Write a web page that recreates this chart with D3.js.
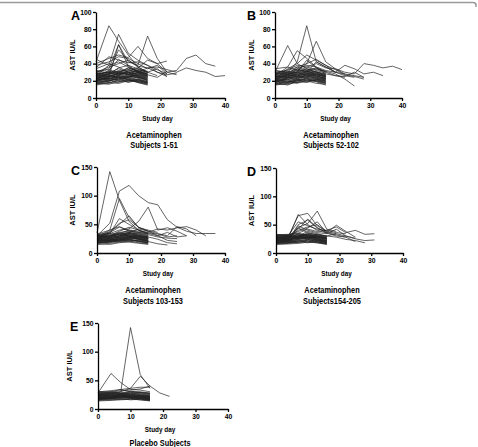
<!DOCTYPE html>
<html>
<head>
<meta charset="utf-8">
<script src="https://cdn.jsdelivr.net/npm/d3@7"></script>
<style>
  html, body { margin: 0; padding: 0; background: #fff; }
  svg { display: block; }
  text { font-family: "Liberation Sans", Arial, sans-serif; font-weight: bold; fill: #000; }
</style>
</head>
<body>
<div id="chart"></div>
<script>
// study days shared by all panels (one visit every 3 days after day 4)
const studyDays = [0, 4, 7, 10, 13, 16, 19, 22, 25, 28, 31, 34, 37, 40];
const xTicks = [0, 10, 20, 30, 40];
const yTicks100 = [0, 20, 40, 60, 80, 100];
const yTicks150 = [0, 50, 100, 150];

// AST values per subject, one row per subject, aligned on studyDays
const subjectsA = [
  [42,84,66,50,36,30],
  [26,38,74,52,44,38,33,28],
  [30,34,62,42,38,72,46,30,27],
  [40,46,50,47,60,46,40,43],
  [22,30,56,44,36,30,34,25],
  [28,30,31,33,35,44,40,30,32,46,50,40,37],
  [22,28,35,38,30,35,36,33,30,35,32,30,25,26],
  [45,38,42,36,30,28],
  [35,48,44,41,42,38,30,25],
  [20,25,62,37,30,25],
  [38,42,48,46,40,34,38,28],
  [30,36,40,44,37,35,30,27,29],
  [25,32,45,38,34,30,26],
  [34,40,36,30,32,27,24,31],
  [22,25,28,24,26,20],
  [18,20,22,25,21,17],
  [25,28,30,27,29,26],
  [20,19,24,22,18,16],
  [28,30,26,32,30,28],
  [16,18,20,19,22,18],
  [24,22,27,30,26,24],
  [30,27,32,28,31,29],
  [19,23,21,25,24,22],
  [26,24,29,27,33,30],
  [21,25,23,20,22,19],
  [17,16,19,21,18,15],
  [27,31,28,33,29,27],
  [23,21,25,24,28,25],
  [20,24,26,29,24,21],
  [32,29,34,30,27,25],
  [18,21,18,22,20,18],
  [25,27,24,26,23,20],
  [22,20,23,27,25,23],
  [29,26,30,35,31,28],
  [15,18,17,20,19,17],
  [24,28,31,27,25,22],
  [21,23,20,24,27,24],
  [26,29,27,31,34,31],
  [19,17,22,18,21,19],
  [28,25,29,28,26,23],
  [23,26,24,22,24,21],
  [31,33,29,35,32,30],
  [17,20,24,21,19,16],
  [25,22,26,25,30,27],
  [20,22,25,23,20,18],
  [27,24,28,30,28,26]
];

const subjectsB = [
  [30,61,40,34,30,26],
  [24,30,42,84,42,36,30],
  [20,28,36,40,66,42,34,28],
  [26,36,55,46,36,30],
  [22,34,40,50,44,38,30,26,24],
  [28,33,38,36,40,35,34,30,28,40,38,35,37,33],
  [32,30,34,38,36,32,30,38,34,28,30,26],
  [25,27,30,36,33,31,28,22,14],
  [30,32,36,32,35,28,26,25,30,24],
  [34,36,32,40,45,38,33,27,25,22],
  [18,24,30,44,35,30,26,24],
  [22,26,34,30,42,36,30,28,26,24],
  [20,22,24,26,23,21],
  [16,18,21,19,22,20],
  [24,26,28,30,27,25],
  [18,15,20,22,19,17],
  [27,29,25,31,28,26],
  [21,24,22,27,25,23],
  [15,17,19,18,21,19],
  [25,23,27,29,26,22],
  [29,27,31,33,30,28],
  [19,21,18,24,22,20],
  [23,25,26,28,31,27],
  [17,20,17,21,19,15],
  [26,28,30,27,29,24],
  [22,19,23,25,24,22],
  [28,31,29,34,32,29],
  [20,23,25,23,20,18],
  [16,16,18,20,17,16],
  [24,27,24,28,25,23],
  [30,28,32,30,34,31],
  [18,22,21,25,23,21],
  [25,24,28,26,28,25],
  [21,18,22,20,21,18],
  [27,30,27,32,30,27],
  [23,21,26,24,27,24],
  [19,24,23,27,24,22],
  [32,29,33,31,29,26],
  [17,19,20,22,20,17],
  [26,25,29,31,27,25],
  [22,27,25,29,26,23],
  [20,17,21,23,22,19]
];

const subjectsC = [
  [35,142,92,55,40,34],
  [30,52,108,118,100,88,84,58,45,38,34,34,34],
  [28,40,95,62,45,38],
  [25,38,50,65,44,40,36],
  [30,34,40,42,55,80,40,44,38,30],
  [28,35,52,58,45,38,34,30,46,42,30],
  [32,36,45,40,38,36,42,40,44,46,40,30],
  [26,30,38,45,40,35,33,28,30],
  [30,28,33,35,42,38,30,36,28,30],
  [24,34,60,50,40,32,28,26,25],
  [33,40,46,38,36,34,30,22,20],
  [22,26,30,34,30,28,24,18,16],
  [20,22,26,28,24,20,16,14],
  [22,25,28,30,26,22],
  [18,20,24,23,21,18],
  [28,30,34,36,31,27],
  [15,17,19,21,18,16],
  [25,27,30,33,29,25],
  [20,23,22,26,24,21],
  [30,32,36,38,34,30],
  [17,19,21,24,20,17],
  [26,24,29,31,28,26],
  [23,26,27,29,32,28],
  [19,18,22,20,23,20],
  [32,34,31,36,33,29],
  [21,24,26,28,25,22],
  [27,29,32,30,27,24],
  [16,15,18,19,17,15],
  [24,22,25,27,30,26],
  [29,31,28,33,35,31],
  [18,21,20,23,22,19],
  [25,28,33,29,26,23],
  [22,20,23,25,27,25],
  [31,29,34,40,36,33],
  [20,24,21,22,20,18],
  [26,27,30,34,31,27],
  [17,20,23,26,24,21],
  [28,25,27,29,28,25],
  [23,22,24,27,25,22],
  [19,22,25,24,21,18],
  [24,30,35,32,29,26]
];

const subjectsD = [
  [30,28,68,50,40,35],
  [25,30,66,70,48,38],
  [28,26,45,52,74,42,38],
  [22,24,50,58,44,36,49,38,28],
  [30,32,55,48,42,40,46,36,40,33,34],
  [26,28,40,46,50,38,34,30,25,22,23],
  [24,22,48,40,36,34,42,30,26],
  [20,26,42,60,45,35,30,28,20],
  [32,30,38,44,55,36,32,28],
  [28,24,35,42,38,40,36,34],
  [18,22,30,38,34,30,28,24,22,18],
  [26,30,44,36,32,30,34],
  [22,24,26,28,25,21],
  [18,19,22,24,20,17],
  [28,27,30,32,29,26],
  [16,17,19,21,18,15],
  [25,26,29,27,30,24],
  [20,21,24,26,23,20],
  [30,31,28,33,31,28],
  [17,18,21,20,22,18],
  [26,25,27,31,27,25],
  [23,22,31,29,26,22],
  [19,20,18,23,21,19],
  [32,33,35,30,28,26],
  [21,22,25,27,24,21],
  [27,28,32,29,33,29],
  [15,16,17,19,18,16],
  [24,23,28,30,26,23],
  [29,30,27,34,30,27],
  [18,20,23,22,19,17],
  [25,24,26,28,27,25],
  [22,21,29,25,23,20],
  [31,32,30,35,32,30],
  [20,19,21,24,22,18],
  [26,27,33,31,28,24],
  [17,18,20,18,20,16],
  [28,29,26,28,25,22],
  [23,24,27,26,29,26],
  [19,21,24,27,23,20],
  [33,31,34,32,30,28]
];

const subjectsE = [
  [30,32,34,30,30,28],
  [28,62,46,34,33,30],
  [26,28,30,142,60,36],
  [24,26,30,36,57,40,28,22],
  [30,30,34,36,38,38],
  [28,29,32,33,35,40],
  [20,22,23,21,20,18],
  [17,18,19,20,18,16],
  [24,25,26,24,23,22],
  [15,16,17,18,16,15],
  [22,21,24,23,22,20],
  [19,20,21,19,21,18],
  [26,27,25,28,26,24],
  [16,17,18,16,17,15],
  [23,24,22,25,24,22],
  [21,19,23,22,20,19],
  [18,20,19,21,19,17],
  [28,29,27,30,28,26],
  [20,21,22,20,23,21],
  [25,23,26,27,25,23],
  [14,15,16,17,16,14],
  [22,24,21,24,22,20],
  [27,26,28,26,29,27],
  [17,19,20,19,18,16],
  [24,22,25,26,24,21],
  [19,18,21,23,21,19],
  [29,30,28,31,29,27],
  [21,20,22,21,20,18],
  [26,25,27,29,27,25],
  [16,18,17,18,19,17],
  [23,22,24,22,24,23],
  [18,19,21,20,18,16],
  [25,27,26,25,23,21],
  [20,22,24,23,21,19]
];

// panel layout
const panels = [
  {letter: 'A', rows: subjectsA, yMax: 100, yTicks: yTicks100, x0: 96,  x1: 225, yTop: 12,  yBot: 98,
   title: ['Acetaminophen', 'Subjects 1-51'], tx: 154, ty: 137.5, ytx: 72, lx: 71},
  {letter: 'B', rows: subjectsB, yMax: 100, yTicks: yTicks100, x0: 275, x1: 402, yTop: 12,  yBot: 98,
   title: ['Acetaminophen', 'Subjects 52-102'], tx: 331, ty: 137.5, ytx: 251, lx: 247},
  {letter: 'C', rows: subjectsC, yMax: 150, yTicks: yTicks150, x0: 97,  x1: 225, yTop: 167, yBot: 253,
   title: ['Acetaminophen', 'Subjects 103-153'], tx: 153, ty: 293, ytx: 72, lx: 71},
  {letter: 'D', rows: subjectsD, yMax: 150, yTicks: yTicks150, x0: 276, x1: 403, yTop: 168, yBot: 253,
   title: ['Acetaminophen', 'Subjects154-205'], tx: 332, ty: 293, ytx: 251, lx: 247},
  {letter: 'E', rows: subjectsE, yMax: 150, yTicks: yTicks150, x0: 98,  x1: 228, yTop: 323, yBot: 409,
   title: ['Placebo  Subjects'], tx: 160, ty: 446, ytx: 69, lx: 70}
];

const W = 478, H = 447;
const svg = d3.select('#chart').append('svg')
  .attr('width', W)
  .attr('height', H);

// thin gray frame line at the top
svg.append('path')
  .attr('d', 'M0,2.5 H473 Q476,2.5 476,5 V7')
  .attr('fill', 'none')
  .attr('stroke', '#9a9a9a')
  .attr('stroke-width', 1.5);

panels.forEach(p => {
  const g = svg.append('g');

  const x = d3.scaleLinear().domain([0, 40]).range([p.x0, p.x1]);
  const y = d3.scaleLinear().domain([0, p.yMax]).range([p.yBot, p.yTop]);

  const line = d3.line()
    .defined(d => d != null)
    .x((d, i) => x(studyDays[i]))
    .y(d => y(d));

  // subject lines
  g.append('g')
    .selectAll('path')
    .data(p.rows)
    .enter()
    .append('path')
    .attr('d', line)
    .attr('fill', 'none')
    .attr('stroke', '#222')
    .attr('stroke-width', 0.7);

  // axes
  const xAxis = g.append('g')
    .attr('transform', `translate(0,${p.yBot})`)
    .call(d3.axisBottom(x).tickValues(xTicks).tickSize(3).tickSizeOuter(0));
  const yAxis = g.append('g')
    .attr('transform', `translate(${p.x0},0)`)
    .call(d3.axisLeft(y).tickValues(p.yTicks).tickSize(3).tickSizeOuter(0).tickPadding(1.5));

  [xAxis, yAxis].forEach(a => {
    a.selectAll('path, line').attr('stroke', '#000').attr('stroke-width', 1.3);
    a.selectAll('text')
      .style('font-size', '6.8px')
      .style('font-weight', 'bold')
      .attr('fill', '#000');
  });
  xAxis.selectAll('text').attr('dy', '0.6em');

  // panel letter
  g.append('text')
    .attr('x', p.lx)
    .attr('y', p.yTop + 7.5)
    .style('font-size', '12.5px')
    .text(p.letter);

  // y title
  g.append('text')
    .attr('transform', `translate(${p.ytx},${(p.yTop + p.yBot) / 2}) rotate(-90)`)
    .attr('text-anchor', 'middle')
    .attr('dy', '0.35em')
    .style('font-size', '7.5px')
    .text('AST IU/L');

  // x title
  g.append('text')
    .attr('transform', `translate(${(p.x0 + p.x1) / 2 - 3},${p.yBot + 23}) scale(0.85,1)`)
    .attr('text-anchor', 'middle')
    .style('font-size', '7.5px')
    .text('Study day');

  // panel caption
  p.title.forEach((t, i) => {
    g.append('text')
      .attr('transform', `translate(${p.tx},${p.ty + i * 10.5}) scale(0.82,1)`)
      .attr('text-anchor', 'middle')
      .style('font-size', '9px')
      .text(t);
  });
});
</script>
</body>
</html>
